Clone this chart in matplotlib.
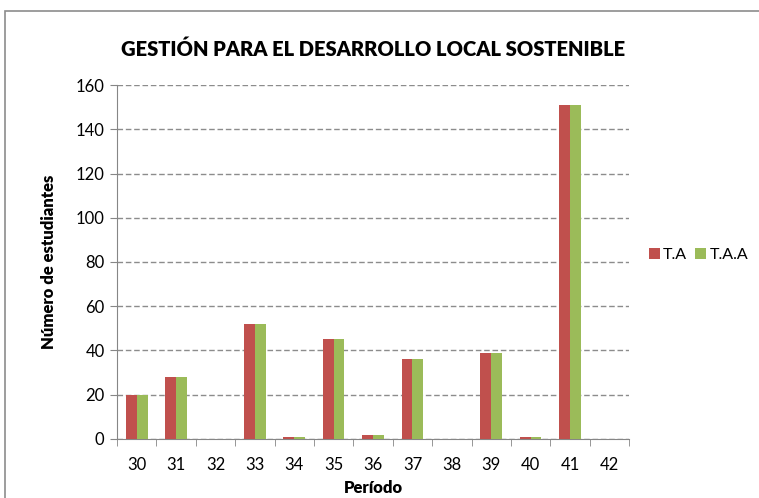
import matplotlib.pyplot as plt
from matplotlib.patches import Rectangle
import numpy as np

# chart data
periods = ["30", "31", "32", "33", "34", "35", "36", "37", "38", "39", "40", "41", "42"]
ta = [20, 28, 0, 52, 1, 45, 2, 36, 0, 39, 1, 151, 0]
taa = [20, 28, 0, 52, 1, 45, 2, 36, 0, 39, 1, 151, 0]

RED, GREEN = "#C0504D", "#9BBB59"
plt.rcParams['font.family'] = ['Lato', 'DejaVu Sans']

fig = plt.figure(figsize=(7.59, 4.98), dpi=100)
ax = fig.add_axes([0.1542, 0.1185, 0.6746, 0.7108])

# outer chart frame (cut off on right and bottom)
fig.patches.append(Rectangle((0.0066, -0.1), 1.2, 0.978 + 0.1, transform=fig.transFigure,
                             fill=False, edgecolor="#8c8c8c", lw=1.2))

x = np.arange(len(periods))
w = 0.275
ax.bar(x - w / 2, ta, w, color=RED, label="T.A", zorder=3)
ax.bar(x + w / 2, taa, w, color=GREEN, label="T.A.A", zorder=3)

ax.set_xlim(-0.5, len(periods) - 0.5)
ax.set_ylim(0, 160)
ax.set_yticks(range(0, 161, 20))
ax.set_xticks(x)
ax.set_xticklabels(periods)
ax.set_xticks(np.arange(-0.5, len(periods), 1), minor=True)
ax.tick_params(axis='x', which='major', length=0, labelsize=12, pad=13)
ax.tick_params(axis='x', which='minor', length=5, color="#868686", direction='out')
ax.tick_params(axis='y', length=5, color="#868686", labelsize=12, pad=4)

ax.yaxis.grid(True, linestyle=(0, (4, 2)), color="#8c8c8c", lw=1, zorder=0)
ax.spines[['right', 'top']].set_visible(False)
for s in ['left', 'bottom']:
    ax.spines[s].set_color("#868686")

ax.set_title("GESTIÓN PARA EL DESARROLLO LOCAL SOSTENIBLE", fontsize=14.5,
             fontweight='heavy', pad=21)
ax.set_xlabel("Período", fontsize=12, fontweight='heavy', labelpad=5)
ax.set_ylabel("Número de estudiantes", fontsize=12, fontweight='heavy')
ax.yaxis.set_label_coords(-0.117, 0.5)

ax.legend(loc="center left", bbox_to_anchor=(1.01, 0.52), ncol=2, frameon=False,
          fontsize=11.5, handlelength=0.7, handleheight=0.7, handletextpad=0.2,
          columnspacing=0.5, borderaxespad=0.5)

fig.savefig("out.png", dpi=100)
